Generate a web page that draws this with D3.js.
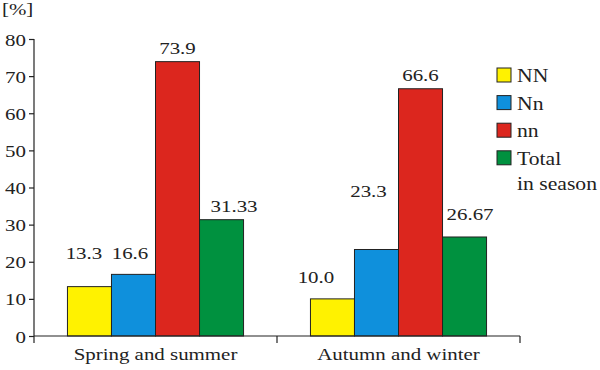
<!DOCTYPE html>
<html>
<head>
<meta charset="utf-8">
<script src="https://cdn.jsdelivr.net/npm/d3@7"></script>
<style>
  body { margin: 0; background: #fff; }
</style>
</head>
<body>
<svg id="chart" width="600" height="370"></svg>
<script>
// data
const groups = ["Spring and summer", "Autumn and winter"];
const series = ["NN", "Nn", "nn", "Total in season"];
const springValues = [13.3, 16.6, 73.9, 31.33];
const autumnValues = [10.0, 23.3, 66.6, 26.67];
const springLabels = ["13.3", "16.6", "73.9", "31.33"];
const autumnLabels = ["10.0", "23.3", "66.6", "26.67"];
const yTicks = [0, 10, 20, 30, 40, 50, 60, 70, 80];
const legendLines = [["NN"], ["Nn"], ["nn"], ["Total", "in season"]];

// layout
const FONT = "'Liberation Serif', 'Times New Roman', serif";
const colors = ["#fff200", "#0f90dc", "#dc261e", "#00913f"];
// label offsets from bar top centre (the source places them by hand)
const labelNudge = [
    [[-5.5, -27.6], [-3.5, -15.4], [0, -7.6], [12.5, -8]],
    [[-16.5, -16], [-8, -52.5], [0, -7.7], [5.5, -17]]
];
const SX = 1.23; // the source font is stretched wide

const svg = d3.select("#chart");

const values = [springValues, autumnValues];
const labels = [springLabels, autumnLabels];

const x0 = d3.scaleBand().domain(groups).range([34, 520]).padding(0);
const x1 = d3.scaleBand().domain(series).range([0, x0.bandwidth()])
    .paddingInner(0).paddingOuter(0.76);
const y = d3.scaleLinear().domain([0, 80]).range([336, 39]);

// bars
groups.forEach((g, gi) => {
    const gEl = svg.append("g").attr("transform", `translate(${x0(g)},0)`);
    gEl.selectAll("rect")
        .data(values[gi])
        .enter().append("rect")
        .attr("x", (d, i) => x1(series[i]))
        .attr("y", d => y(d))
        .attr("width", x1.bandwidth())
        .attr("height", d => y(0) - y(d))
        .attr("fill", (d, i) => colors[i])
        .attr("stroke", "#222")
        .attr("stroke-width", 1);

    gEl.selectAll("text")
        .data(values[gi])
        .enter().append("text")
        .attr("transform", (d, i) => {
            const cx = x1(series[i]) + x1.bandwidth() / 2 + labelNudge[gi][i][0];
            const cy = y(d) + labelNudge[gi][i][1];
            return `translate(${cx},${cy}) scale(${SX},1)`;
        })
        .attr("text-anchor", "middle")
        .style("font-family", FONT)
        .style("font-size", "17px")
        .attr("fill", "#222")
        .text((d, i) => labels[gi][i]);
});

// y axis
const yAxis = svg.append("g")
    .attr("transform", "translate(34,0)")
    .call(d3.axisLeft(y).tickValues(yTicks).tickSize(5).tickSizeOuter(0).tickFormat(d3.format("d")));
yAxis.select(".domain").remove();
yAxis.selectAll(".tick line").attr("stroke", "#222").attr("stroke-width", 1.2);
yAxis.selectAll(".tick text")
    .attr("x", 0).attr("dy", null)
    .attr("transform", `translate(-8,6) scale(${SX},1)`)
    .style("font-size", "17px")
    .style("font-family", FONT)
    .attr("fill", "#222");
svg.append("line")
    .attr("x1", 34).attr("x2", 34)
    .attr("y1", y(80)).attr("y2", y(0) + 7)
    .attr("stroke", "#222").attr("stroke-width", 1.2);

// x axis
svg.append("line")
    .attr("x1", x0.range()[0]).attr("x2", x0.range()[1])
    .attr("y1", y(0)).attr("y2", y(0))
    .attr("stroke", "#222").attr("stroke-width", 1.2);
svg.selectAll(".xtick")
    .data(groups)
    .enter().append("line")
    .attr("class", "xtick")
    .attr("x1", d => x0(d) + x0.bandwidth()).attr("x2", d => x0(d) + x0.bandwidth())
    .attr("y1", y(0)).attr("y2", y(0) + 7)
    .attr("stroke", "#222").attr("stroke-width", 1.2);
svg.selectAll(".xlabel")
    .data(groups)
    .enter().append("text")
    .attr("class", "xlabel")
    .attr("transform", d => `translate(${x0(d) + x0.bandwidth() / 2},360) scale(${SX},1)`)
    .attr("text-anchor", "middle")
    .style("font-family", FONT)
    .style("font-size", "17px")
    .attr("fill", "#222")
    .text(d => d);

// unit
svg.append("text")
    .attr("transform", `translate(2,15) scale(${SX},1)`)
    .style("font-family", FONT)
    .style("font-size", "17px")
    .attr("fill", "#222")
    .text("[%]");

// legend
const legend = svg.append("g");
series.forEach((s, i) => {
    const top = 68 + i * 27.6;
    legend.append("rect")
        .attr("x", 497).attr("y", top)
        .attr("width", 14).attr("height", 14)
        .attr("fill", colors[i])
        .attr("stroke", "#222").attr("stroke-width", 1);
    legendLines[i].forEach((line, li) => {
        legend.append("text")
            .attr("transform", `translate(517,${top + 14 + li * 25}) scale(1.14,1)`)
            .style("font-family", FONT)
            .style("font-size", "19px")
            .attr("fill", "#222")
            .text(line);
    });
});
</script>
</body>
</html>
